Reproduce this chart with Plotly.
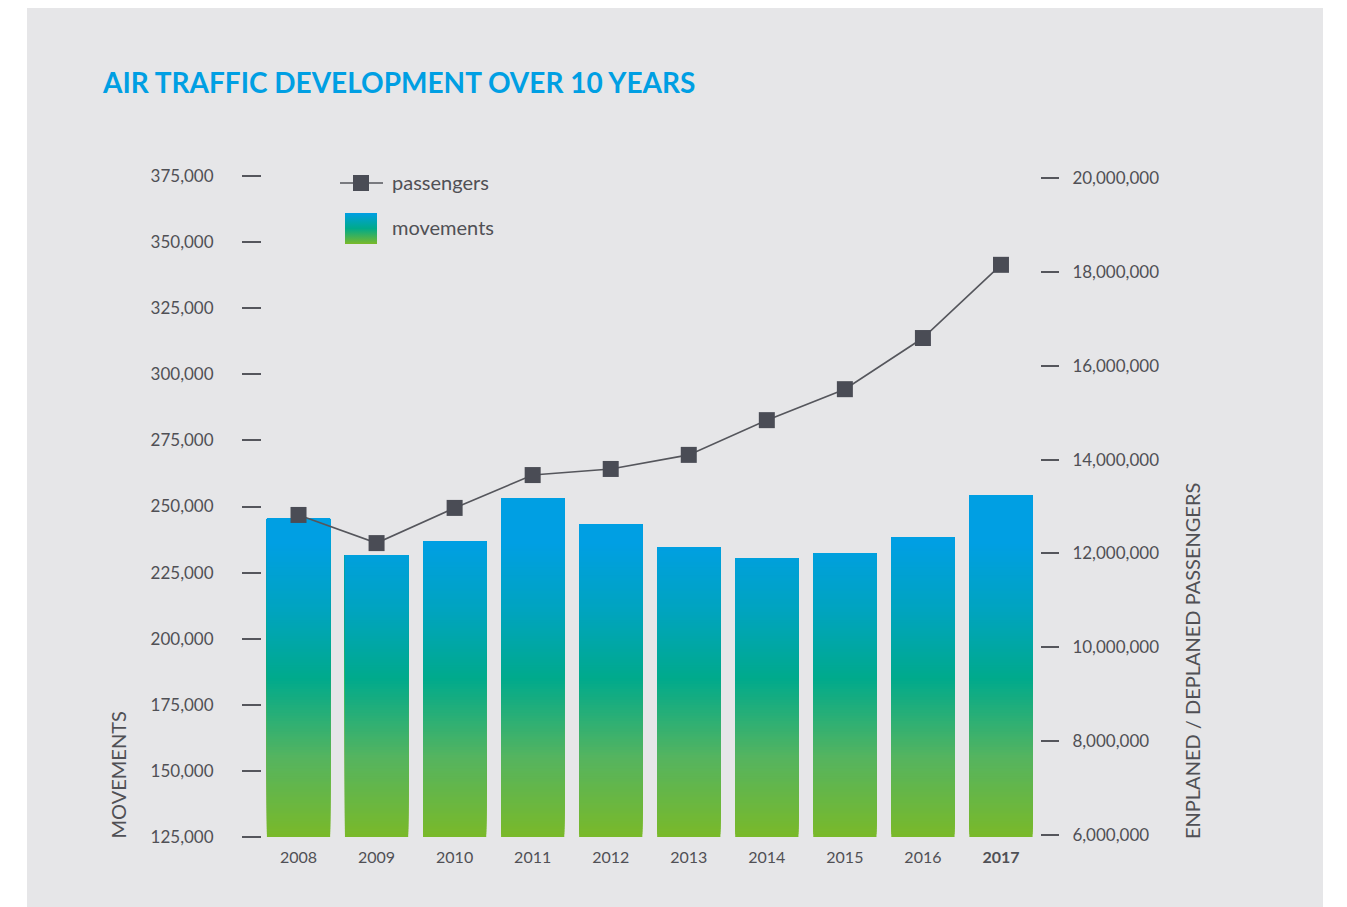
import base64
import plotly.graph_objects as go

# ---- data ----
years = ["2008", "2009", "2010", "2011", "2012", "2013", "2014", "2015", "2016", "2017"]
movements = [245300, 231600, 236900, 253200, 243400, 234700, 230500, 232400, 238500, 254300]
passengers = [12820000, 12220000, 12970000, 13670000, 13800000, 14100000, 14840000, 15500000, 16590000, 18150000]
left_ticks = [125000, 150000, 175000, 200000, 225000, 250000, 275000, 300000, 325000, 350000, 375000]
right_ticks = [6000000, 8000000, 10000000, 12000000, 14000000, 16000000, 18000000, 20000000]
year_labels = ["2008", "2009", "2010", "2011", "2012", "2013", "2014", "2015", "2016", "<b>2017</b>"]

# ---- style ----
W, H = 1347, 907
PL, PR, PT, PB = 262, 1040, 176, 837  # plot area in pixels
TEXT = "#505055"
FONT = "Lato"
BLUE = "#009fe3"
panel = "#e6e6e8"

# gradient stops in movement-value space (fixed, absolute)
stops = [(125000, (122, 185, 41)), (155000, (85, 180, 95)), (185000, (0, 170, 140)),
         (210000, (0, 164, 190)), (236000, (0, 159, 227))]


def grad(v):
    if v <= stops[0][0]:
        c = stops[0][1]
    elif v >= stops[-1][0]:
        c = stops[-1][1]
    else:
        for (a, ca), (b, cb) in zip(stops[:-1], stops[1:]):
            if a <= v <= b:
                t = (v - a) / (b - a)
                c = tuple(round(ca[i] + (cb[i] - ca[i]) * t) for i in range(3))
                break
    return "rgb(%d,%d,%d)" % c


fig = go.Figure()

# bars drawn as overlaid slices to build the vertical gradient
step = 1000
lo = left_ticks[0]
while lo < max(movements):
    heights = [max(v - lo, 0) for v in movements]
    fig.add_trace(go.Bar(
        x=years, y=heights, base=[lo] * len(years), width=0.81,
        marker=dict(color=grad(lo + step / 2), line=dict(width=0)),
        showlegend=False, hoverinfo="skip", yaxis="y",
    ))
    lo += step

fig.add_trace(go.Scatter(
    x=years, y=passengers, yaxis="y2", mode="lines+markers",
    line=dict(color="#55565c", width=1.6),
    marker=dict(symbol="square", size=16, color="#4a4c55"),
    showlegend=False, name="passengers",
))

pw, ph = PR - PL, PB - PT


def px(x):
    return (x - PL) / pw


def py(y):
    return (PB - y) / ph


# right axis range aligned to pixel positions of its ticks (20M at y=178, 6M at y=835)
ppm = (835 - 178) / 14e6
r_lo = 6e6 - (PB - 835) / ppm
r_hi = 20e6 + (178 - PT) / ppm

shapes = [
    dict(type="rect", xref="paper", yref="paper", x0=px(27), x1=px(1323), y0=py(907), y1=py(8),
         fillcolor=panel, line=dict(width=0), layer="below"),
    # legend: passengers symbol
    dict(type="line", xref="paper", yref="paper", x0=px(340), x1=px(383), y0=py(183), y1=py(183),
         line=dict(color="#55565c", width=1.6)),
    dict(type="rect", xref="paper", yref="paper", x0=px(353), x1=px(369), y0=py(191), y1=py(175),
         fillcolor="#4a4c55", line=dict(width=0)),
]

svg = ('<svg xmlns="http://www.w3.org/2000/svg" width="32" height="31">'
       '<defs><linearGradient id="g" x1="0" y1="0" x2="0" y2="1">'
       '<stop offset="0" stop-color="#009fe3"/><stop offset="0.5" stop-color="#00aa8a"/>'
       '<stop offset="1" stop-color="#7ab929"/></linearGradient></defs>'
       '<rect width="32" height="31" fill="url(#g)"/></svg>')
src = "data:image/svg+xml;base64," + base64.b64encode(svg.encode()).decode()

images = [dict(source=src, xref="paper", yref="paper", x=px(345), y=py(213),
               sizex=(377 - 345) / pw, sizey=(244 - 213) / ph, sizing="stretch",
               xanchor="left", yanchor="top", layer="above")]

annotations = [
    dict(text="<b>AIR TRAFFIC DEVELOPMENT OVER 10 YEARS</b>", xref="paper", yref="paper",
         x=px(100), y=py(82), xanchor="left", yanchor="middle", showarrow=False,
         font=dict(family=FONT, size=28, color=BLUE)),
    dict(text="passengers", xref="paper", yref="paper", x=px(390), y=py(182),
         xanchor="left", yanchor="middle", showarrow=False, font=dict(family=FONT, size=20, color=TEXT)),
    dict(text="movements", xref="paper", yref="paper", x=px(390), y=py(227),
         xanchor="left", yanchor="middle", showarrow=False, font=dict(family=FONT, size=20, color=TEXT)),
    dict(text="MOVEMENTS", xref="paper", yref="paper", x=px(117), y=py(841),
         xanchor="center", yanchor="bottom", textangle=-90, showarrow=False,
         font=dict(family=FONT, size=20, color=TEXT)),
    dict(text="ENPLANED / DEPLANED PASSENGERS", xref="paper", yref="paper", x=px(1192), y=py(841),
         xanchor="center", yanchor="bottom", textangle=-90, showarrow=False,
         font=dict(family=FONT, size=20, color=TEXT)),
]

fig.update_layout(
    width=W, height=H,
    margin=dict(l=PL, r=W - PR, t=PT, b=H - PB, pad=0),
    paper_bgcolor="white", plot_bgcolor="rgba(0,0,0,0)",
    barmode="overlay", showlegend=False,
    font=dict(family=FONT, size=17, color=TEXT),
    xaxis=dict(type="category", range=[-(298.5 - PL) / 78, 9.5], showgrid=False, zeroline=False,
               showline=False, ticks="", tickvals=years, ticktext=year_labels,
               ticklabelstandoff=9, tickfont=dict(size=16, color=TEXT)),
    yaxis=dict(range=[125000, 375000], tickvals=left_ticks, tickformat=",d", showgrid=False,
               zeroline=False, showline=False, ticks="outside", ticklen=19, tickwidth=1.5,
               tickcolor="#55565c", ticklabelstandoff=25, tickfont=dict(size=17, color=TEXT)),
    yaxis2=dict(range=[r_lo, r_hi], overlaying="y", side="right", tickvals=right_ticks,
                tickformat=",d", showgrid=False, zeroline=False, showline=False, ticks="outside",
                ticklen=18, tickwidth=1.5, tickcolor="#55565c", ticklabelstandoff=10,
                tickfont=dict(size=17, color=TEXT)),
    shapes=shapes, images=images, annotations=annotations,
)

fig.write_html("out.html")
